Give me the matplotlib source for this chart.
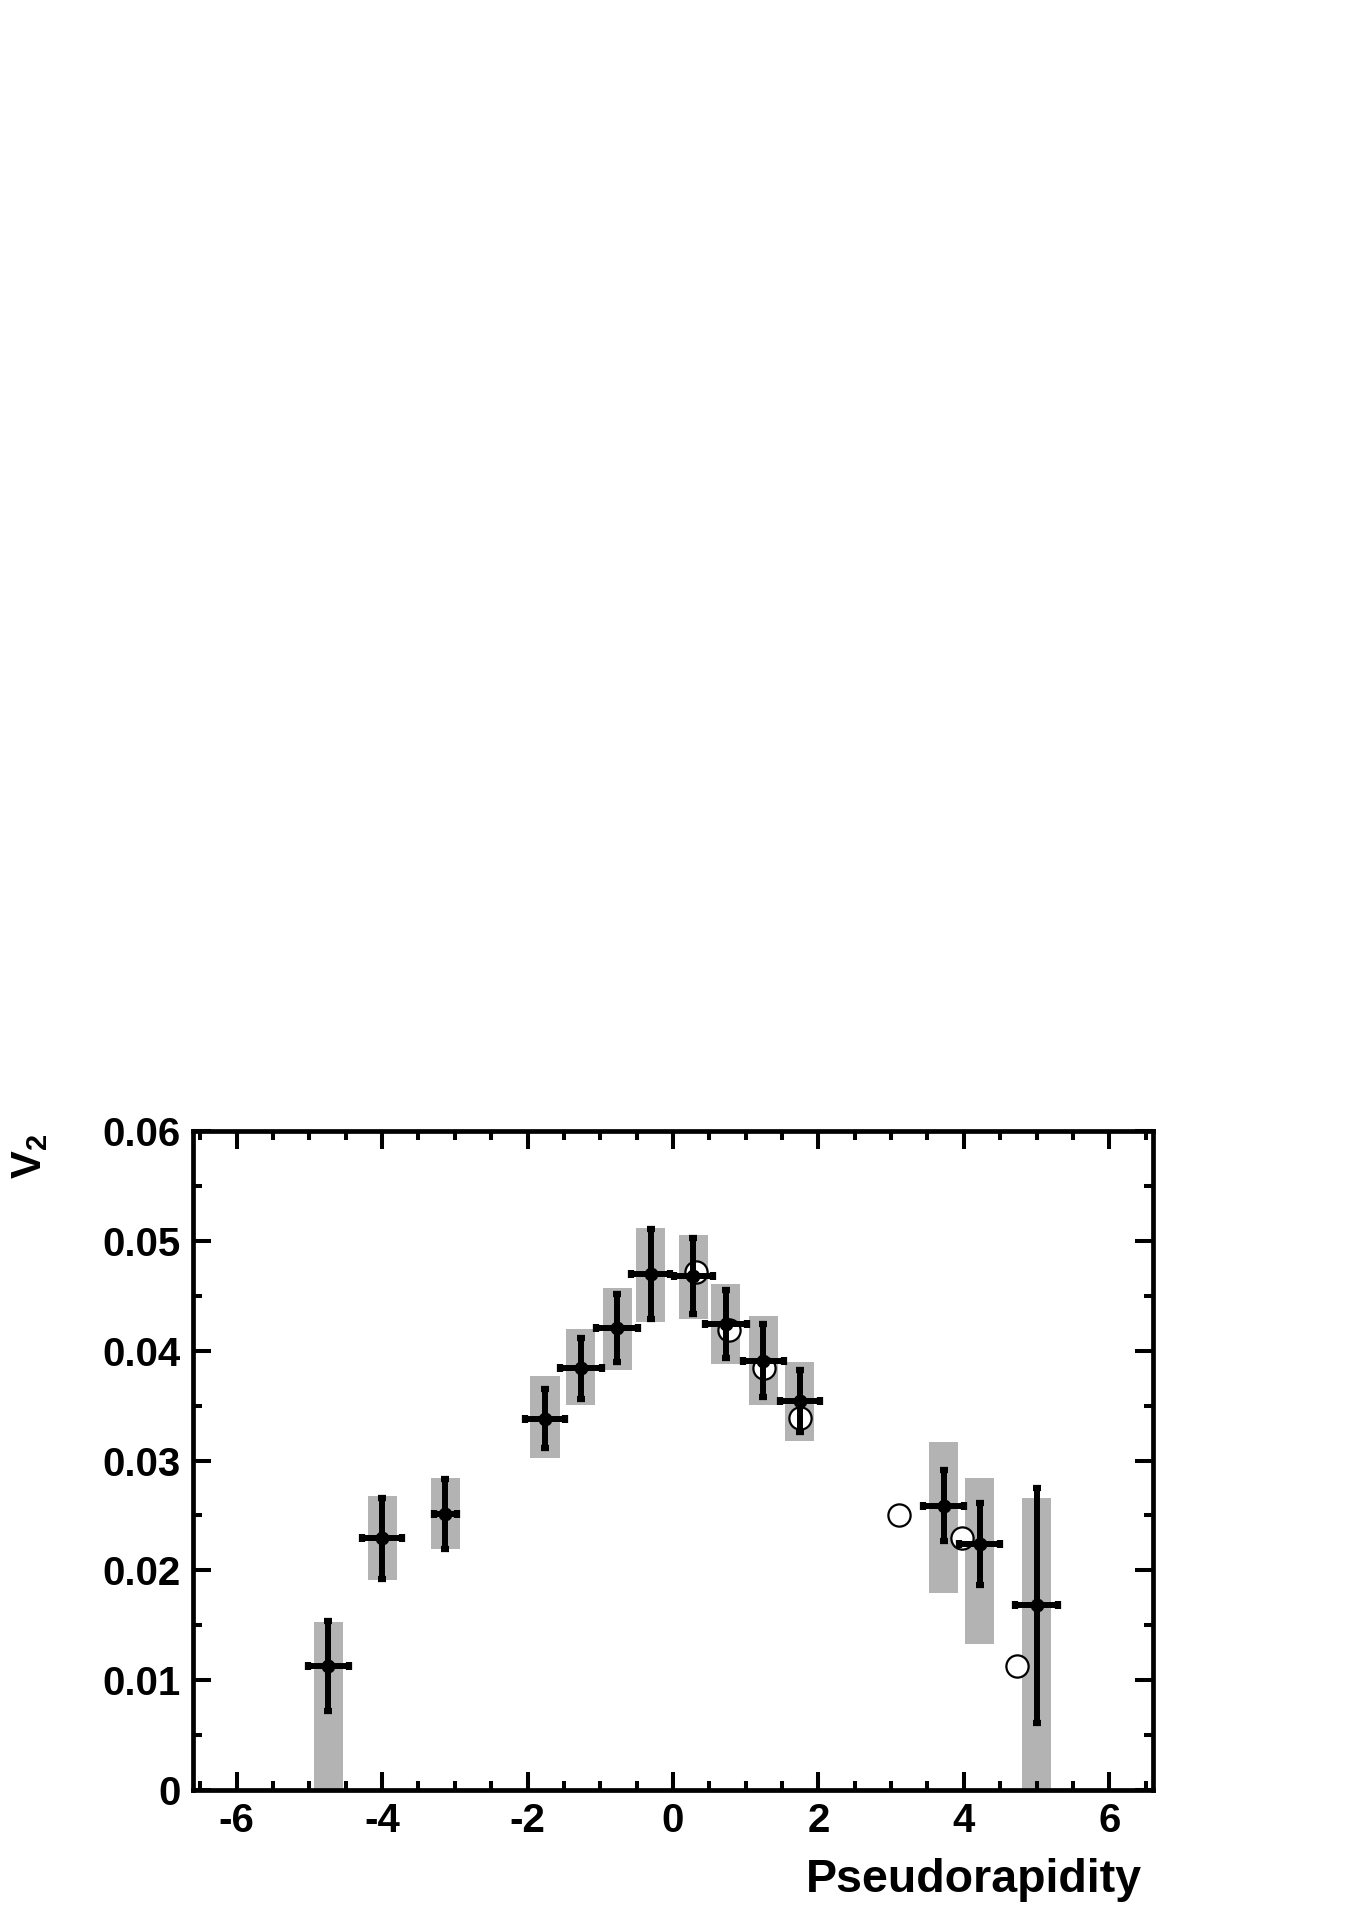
import numpy as np
import matplotlib
matplotlib.use("Agg")
import matplotlib.pyplot as plt
from matplotlib.ticker import MultipleLocator

plt.rcParams["font.family"] = ["Liberation Sans", "DejaVu Sans"]
plt.rcParams["font.weight"] = "bold"
plt.rcParams["axes.unicode_minus"] = False
plt.rcParams["mathtext.fontset"] = "custom"
plt.rcParams["mathtext.bf"] = "Liberation Sans:bold"
plt.rcParams["mathtext.rm"] = "Liberation Sans:bold"

# measured points (filled)
eta = [-4.74, -4.0, -3.13, -1.76, -1.27, -0.765, -0.306, 0.28, 0.725, 1.24, 1.745, 3.725, 4.22, 5.0]
v2 = [0.0113, 0.0229, 0.0251, 0.0338, 0.0384, 0.0421, 0.0470, 0.0468, 0.0424, 0.0391, 0.0354, 0.0259, 0.0224, 0.0168]
v2_stat = [0.0041, 0.0037, 0.0032, 0.0027, 0.0028, 0.0031, 0.0041, 0.0035, 0.0031, 0.0033, 0.0028, 0.0032, 0.0037, 0.0107]
eta_bin = [0.28, 0.275, 0.16, 0.275, 0.29, 0.29, 0.27, 0.27, 0.29, 0.28, 0.28, 0.28, 0.28, 0.29]

# systematic bands
sys_lo = [0.0, 0.0191, 0.0219, 0.0302, 0.0351, 0.0382, 0.0426, 0.0429, 0.0388, 0.0351, 0.0318, 0.0179, 0.0133, 0.0]
sys_hi = [0.0153, 0.0268, 0.0284, 0.0377, 0.0420, 0.0457, 0.0512, 0.0505, 0.0461, 0.0432, 0.0390, 0.0317, 0.0284, 0.0266]

# reflected points (open)
mirror_eta = [0.31, 0.765, 1.25, 1.75, 3.11, 3.98, 4.73]
mirror_v2 = [0.0472, 0.0419, 0.0384, 0.0339, 0.0250, 0.0229, 0.0113]

fig = plt.figure(figsize=(13.45, 19.23), dpi=100)
ax = fig.add_axes([0.1435, 0.0692, 0.7137, 0.3426])

lo = np.array(sys_lo)
hi = np.array(sys_hi)
ax.bar(eta, hi - lo, bottom=lo, width=0.4, color="#b3b3b3", zorder=1)

ax.plot(mirror_eta, mirror_v2, "o", mfc="white", mec="black", ms=16, mew=1.6, zorder=2)

ax.errorbar(eta, v2, yerr=v2_stat, xerr=eta_bin, fmt="o", color="black", ms=9,
            elinewidth=4.3, capsize=3, capthick=4.5, zorder=3)

ax.set_xlim(-6.6, 6.6)
ax.set_ylim(0, 0.06)
ax.xaxis.set_major_locator(MultipleLocator(2))
ax.xaxis.set_minor_locator(MultipleLocator(0.5))
ax.yaxis.set_major_locator(MultipleLocator(0.01))
ax.yaxis.set_minor_locator(MultipleLocator(0.005))
ax.set_yticks([0, 0.01, 0.02, 0.03, 0.04, 0.05, 0.06])
ax.set_yticklabels(["0", "0.01", "0.02", "0.03", "0.04", "0.05", "0.06"])

for s in ax.spines.values():
    s.set_linewidth(3.4)
ax.tick_params(which="both", direction="in", top=True, right=True, width=2.9)
ax.tick_params(which="major", length=13, labelsize=29, pad=9)
ax.tick_params(which="minor", length=6.5)
for lab in ax.get_xticklabels() + ax.get_yticklabels():
    lab.set_fontweight("bold")

fig.text(1142 / 1345, 1 - 1892 / 1923, "Pseudorapidity", ha="right", va="baseline",
         fontsize=33.5, fontweight="bold")
fig.text(10 / 1345, 1 - 1134 / 1923, r"$\mathbf{V_2}$", rotation=90, ha="left", va="top",
         fontsize=30)

fig.savefig("out.png", dpi=100)
